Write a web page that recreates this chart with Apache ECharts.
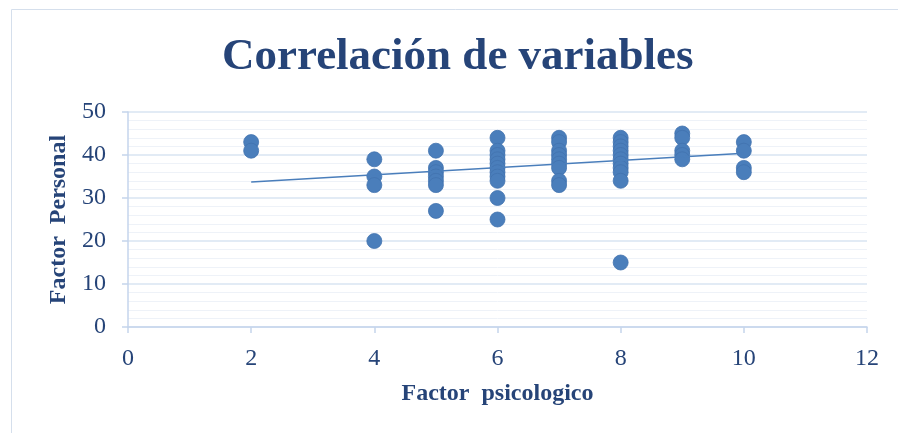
<!DOCTYPE html>
<html>
<head>
<meta charset="utf-8">
<script src="https://cdn.jsdelivr.net/npm/echarts@6/dist/echarts.min.js"></script>
<style>
  html, body { margin: 0; padding: 0; background: #fff; }
  #main { width: 898px; height: 433px; }
</style>
</head>
<body>
<div id="main"></div>
<script>
// puntos (x = factor psicologico, y = factor personal)
var psico = [2, 2,
  4, 4, 4, 4,
  5, 5, 5, 5, 5, 5, 5,
  6, 6, 6, 6, 6, 6, 6, 6, 6, 6, 6,
  7, 7, 7, 7, 7, 7, 7, 7, 7,
  8, 8, 8, 8, 8, 8, 8, 8, 8, 8, 8,
  9, 9, 9, 9, 9,
  10, 10, 10, 10];
var personal = [43, 41,
  39, 35, 33, 20,
  41, 37, 36, 35, 34, 33, 27,
  44, 41, 40, 39, 38, 37, 36, 35, 34, 30, 25,
  44, 43, 41, 40, 39, 38, 37, 34, 33,
  44, 43, 42, 41, 40, 39, 38, 37, 36, 34, 15,
  45, 44, 41, 40, 39,
  43, 41, 37, 36];
// linea de tendencia (extremos leidos)
var trendX = [2, 10];
var trendY = [33.7, 40.4];

var azul = '#4A7EBB';
var texto = '#264478';
var fuente = 'Liberation Serif';

var puntos = psico.map(function (x, i) { return [x, personal[i]]; });
var tendencia = trendX.map(function (x, i) { return [x, trendY[i]]; });

var myChart = echarts.init(document.getElementById('main'));
var option = {
  animation: false,
  title: {
    text: 'Correlación de variables',
    left: 217,
    top: 30,
    textStyle: { fontFamily: fuente, fontSize: 45, fontWeight: 'bold', color: texto }
  },
  graphic: [{
    type: 'rect',
    shape: { x: 11.5, y: 9.5, width: 900, height: 440 },
    style: { fill: 'none', stroke: '#D5DFEC', lineWidth: 1 },
    silent: true
  }],
  grid: { left: 128, right: 31, top: 112, bottom: 106 },
  xAxis: {
    type: 'value',
    min: 0, max: 12, interval: 2,
    name: 'Factor  psicologico',
    nameLocation: 'middle',
    nameGap: 55,
    nameTextStyle: { fontFamily: fuente, fontSize: 24, fontWeight: 'bold', color: texto },
    axisLine: { show: true, lineStyle: { color: '#C5D5EC', width: 1.5 } },
    axisTick: { show: true, length: 6, lineStyle: { color: '#C5D5EC', width: 1.5 } },
    axisLabel: { fontFamily: fuente, fontSize: 24, color: texto, margin: 20 },
    splitLine: { show: false }
  },
  yAxis: {
    type: 'value',
    min: 0, max: 50, interval: 10,
    name: 'Factor  Personal',
    nameLocation: 'middle',
    nameGap: 53,
    nameTextStyle: { fontFamily: fuente, fontSize: 24, fontWeight: 'bold', color: texto },
    axisLine: { show: true, lineStyle: { color: '#C5D5EC', width: 1.5 } },
    axisTick: { show: true, length: 6, lineStyle: { color: '#C5D5EC', width: 1.5 } },
    axisLabel: { fontFamily: fuente, fontSize: 24, color: texto, margin: 22 },
    splitLine: { show: true, lineStyle: { color: '#D9E4F2', width: 1.5 } },
    minorTick: { show: false, splitNumber: 5 },
    minorSplitLine: { show: true, lineStyle: { color: '#EEF2F8', width: 1 } }
  },
  series: [{
    type: 'scatter',
    data: puntos,
    symbolSize: 15,
    itemStyle: { color: azul, opacity: 1, borderColor: '#4172AE', borderWidth: 0.8 }
  }, {
    type: 'line',
    data: tendencia,
    symbol: 'none',
    lineStyle: { color: azul, width: 1.5 },
    z: 3
  }]
};
myChart.setOption(option);
</script>
</body>
</html>
